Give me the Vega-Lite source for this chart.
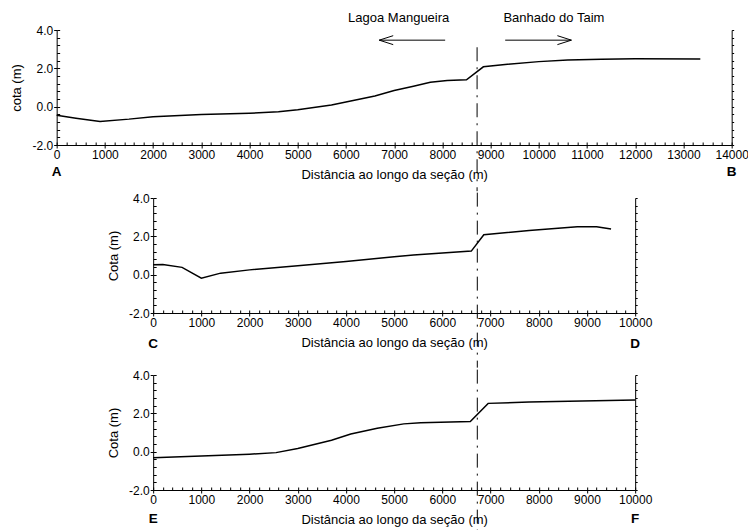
{
  "$schema": "https://vega.github.io/schema/vega-lite/v6.json",
  "background": "white",
  "padding": {"left": 10.5, "top": 11, "right": 0, "bottom": 0},
  "config": {
    "view": {"stroke": null},
    "font": "Liberation Sans",
    "axis": {"grid": false, "labelFont": "Liberation Sans", "labelFontSize": 12, "labelColor": "black", "titleFont": "Liberation Sans", "titleFontSize": 13, "titleFontWeight": "normal", "titleColor": "black", "domainColor": "black", "tickColor": "black", "labelFlush": false, "labelOverlap": false, "domainWidth": 1, "tickWidth": 1}
  },
  "datasets": {
    "perfis": [
      {"perfil": "A-B", "dist": 0, "cota": -0.45},
      {"perfil": "A-B", "dist": 400, "cota": -0.6},
      {"perfil": "A-B", "dist": 900, "cota": -0.77},
      {"perfil": "A-B", "dist": 1500, "cota": -0.65},
      {"perfil": "A-B", "dist": 2000, "cota": -0.52},
      {"perfil": "A-B", "dist": 3000, "cota": -0.41},
      {"perfil": "A-B", "dist": 4000, "cota": -0.34},
      {"perfil": "A-B", "dist": 4600, "cota": -0.27},
      {"perfil": "A-B", "dist": 5000, "cota": -0.16},
      {"perfil": "A-B", "dist": 5700, "cota": 0.09},
      {"perfil": "A-B", "dist": 6100, "cota": 0.3},
      {"perfil": "A-B", "dist": 6600, "cota": 0.56},
      {"perfil": "A-B", "dist": 7000, "cota": 0.84},
      {"perfil": "A-B", "dist": 7400, "cota": 1.06},
      {"perfil": "A-B", "dist": 7750, "cota": 1.27},
      {"perfil": "A-B", "dist": 8100, "cota": 1.36},
      {"perfil": "A-B", "dist": 8500, "cota": 1.4},
      {"perfil": "A-B", "dist": 8850, "cota": 2.08},
      {"perfil": "A-B", "dist": 9250, "cota": 2.19},
      {"perfil": "A-B", "dist": 10000, "cota": 2.35},
      {"perfil": "A-B", "dist": 10600, "cota": 2.43},
      {"perfil": "A-B", "dist": 11300, "cota": 2.48},
      {"perfil": "A-B", "dist": 12000, "cota": 2.5},
      {"perfil": "A-B", "dist": 13350, "cota": 2.49},
      {"perfil": "C-D", "dist": 0, "cota": 0.52},
      {"perfil": "C-D", "dist": 200, "cota": 0.53},
      {"perfil": "C-D", "dist": 600, "cota": 0.38},
      {"perfil": "C-D", "dist": 1000, "cota": -0.18},
      {"perfil": "C-D", "dist": 1400, "cota": 0.08},
      {"perfil": "C-D", "dist": 2000, "cota": 0.25},
      {"perfil": "C-D", "dist": 3000, "cota": 0.47},
      {"perfil": "C-D", "dist": 4000, "cota": 0.69},
      {"perfil": "C-D", "dist": 5000, "cota": 0.93},
      {"perfil": "C-D", "dist": 5400, "cota": 1.03},
      {"perfil": "C-D", "dist": 6600, "cota": 1.23},
      {"perfil": "C-D", "dist": 6860, "cota": 2.08},
      {"perfil": "C-D", "dist": 7800, "cota": 2.3},
      {"perfil": "C-D", "dist": 8800, "cota": 2.5},
      {"perfil": "C-D", "dist": 9200, "cota": 2.5},
      {"perfil": "C-D", "dist": 9500, "cota": 2.38},
      {"perfil": "E-F", "dist": 0, "cota": -0.32},
      {"perfil": "E-F", "dist": 1000, "cota": -0.22},
      {"perfil": "E-F", "dist": 2000, "cota": -0.13},
      {"perfil": "E-F", "dist": 2550, "cota": -0.05},
      {"perfil": "E-F", "dist": 3000, "cota": 0.17},
      {"perfil": "E-F", "dist": 3700, "cota": 0.6},
      {"perfil": "E-F", "dist": 4100, "cota": 0.92},
      {"perfil": "E-F", "dist": 4650, "cota": 1.22},
      {"perfil": "E-F", "dist": 5200, "cota": 1.45},
      {"perfil": "E-F", "dist": 5550, "cota": 1.51},
      {"perfil": "E-F", "dist": 6580, "cota": 1.57},
      {"perfil": "E-F", "dist": 6950, "cota": 2.52},
      {"perfil": "E-F", "dist": 7800, "cota": 2.59},
      {"perfil": "E-F", "dist": 10000, "cota": 2.7}
    ],
    "divisa": [
      {"perfil": "A-B", "dist": 8720},
      {"perfil": "C-D", "dist": 6725},
      {"perfil": "E-F", "dist": 6725}
    ],
    "letras": [
      {"perfil": "A-B", "letra": "A", "dist": 0},
      {"perfil": "A-B", "letra": "B", "dist": 14000},
      {"perfil": "C-D", "letra": "C", "dist": 0},
      {"perfil": "C-D", "letra": "D", "dist": 10000},
      {"perfil": "E-F", "letra": "E", "dist": 0},
      {"perfil": "E-F", "letra": "F", "dist": 10000}
    ],
    "setas": [
      {"rotulo": "Lagoa Mangueira", "sentido": "oeste", "centro": 7094, "inicio": 8058, "ponta": 6690},
      {"rotulo": "Banhado do Taim", "sentido": "leste", "centro": 10313, "inicio": 9303, "ponta": 10676}
    ]
  },
  "spacing": 0,
  "center": true,
  "vconcat": [
    {
      "width": 675, "height": 115,
      "resolve": {"axis": {"x": "independent", "y": "independent"}},
      "layer": [
        {
          "data": {"name": "perfis"},
          "transform": [{"filter": "datum.perfil === 'A-B'"}],
          "mark": {"type": "line", "color": "black", "strokeWidth": 1.5},
          "encoding": {
            "x": {"field": "dist", "type": "quantitative", "scale": {"domain": [0, 14000], "nice": false, "zero": false},
              "axis": {"orient": "bottom", "values": [0,1000,2000,3000,4000,5000,6000,7000,8000,9000,10000,11000,12000,13000,14000], "format": "d", "tickSize": 3, "labelPadding": 1, "title": "Distância ao longo da seção (m)", "titlePadding": 8}},
            "y": {"field": "cota", "type": "quantitative", "scale": {"domain": [-2, 4], "nice": false, "zero": false},
              "axis": {"orient": "left", "values": [-2, 0, 2, 4], "labelExpr": "replace(format(datum.value, '.1f'), '\u2212', '-')", "tickSize": 3, "labelPadding": 1, "title": "cota (m)", "titlePadding": 8}}
          }
        },
        {
          "data": {"name": "divisa"},
          "transform": [{"filter": "datum.perfil === 'A-B'"}],
          "mark": {"type": "rule", "color": "black", "strokeWidth": 1, "strokeDash": [14, 6, 2, 6]},
          "encoding": {
            "x": {"field": "dist", "type": "quantitative",
              "axis": {"orient": "bottom", "values": [0,200,400,600,800,1000,1200,1400,1600,1800,2000,2200,2400,2600,2800,3000,3200,3400,3600,3800,4000,4200,4400,4600,4800,5000,5200,5400,5600,5800,6000,6200,6400,6600,6800,7000,7200,7400,7600,7800,8000,8200,8400,8600,8800,9000,9200,9400,9600,9800,10000,10200,10400,10600,10800,11000,11200,11400,11600,11800,12000,12200,12400,12600,12800,13000,13200,13400,13600,13800,14000], "labels": false, "domain": false, "title": null, "tickSize": -3}},
            "y": {"datum": 3.1, "type": "quantitative",
              "axis": {"orient": "left", "values": [-2,-1.6,-1.2,-0.8,-0.4,0,0.4,0.8,1.2,1.6,2,2.4,2.8,3.2,3.6,4], "labels": false, "domain": false, "title": null, "tickSize": -3}},
            "y2": {"datum": -4.41}
          }
        },
        {
          "data": {"name": "letras"},
          "transform": [{"filter": "datum.perfil === 'A-B'"}],
          "mark": {"type": "text", "fontWeight": "bold", "fontSize": 13.5, "color": "black", "font": "Liberation Sans"},
          "encoding": {
            "x": {"field": "dist", "type": "quantitative", "axis": null},
            "y": {"datum": -3.42, "type": "quantitative",
              "axis": {"orient": "right", "values": [-2,-1.6,-1.2,-0.8,-0.4,0,0.4,0.8,1.2,1.6,2,2.4,2.8,3.2,3.6,4], "labels": false, "domain": true, "title": null, "tickSize": 2}},
            "text": {"field": "letra"}
          }
        },
        {
          "data": {"name": "setas"},
          "mark": {"type": "text", "fontSize": 13, "color": "black", "font": "Liberation Sans"},
          "encoding": {
            "x": {"field": "centro", "type": "quantitative", "axis": null},
            "y": {"datum": 4.63, "type": "quantitative", "axis": null},
            "text": {"field": "rotulo"}
          }
        },
        {
          "data": {"name": "setas"},
          "mark": {"type": "rule", "color": "black", "strokeWidth": 1},
          "encoding": {
            "x": {"field": "inicio", "type": "quantitative", "axis": null},
            "x2": {"field": "ponta"},
            "y": {"datum": 3.47, "type": "quantitative", "axis": null}
          }
        },
        {
          "data": {"name": "setas"},
          "transform": [{"filter": "datum.sentido === 'oeste'"}],
          "mark": {"type": "point", "shape": "M0,0L2,-0.64M0,0L2,0.64", "size": 196, "filled": false, "stroke": "black", "strokeWidth": 1, "opacity": 1},
          "encoding": {
            "x": {"field": "ponta", "type": "quantitative", "axis": null},
            "y": {"datum": 3.47, "type": "quantitative", "axis": null}
          }
        },
        {
          "data": {"name": "setas"},
          "transform": [{"filter": "datum.sentido === 'leste'"}],
          "mark": {"type": "point", "shape": "M0,0L-2,-0.64M0,0L-2,0.64", "size": 196, "filled": false, "stroke": "black", "strokeWidth": 1, "opacity": 1},
          "encoding": {
            "x": {"field": "ponta", "type": "quantitative", "axis": null},
            "y": {"datum": 3.47, "type": "quantitative", "axis": null}
          }
        }
      ]
    },
    {
      "width": 482, "height": 115,
      "resolve": {"axis": {"x": "independent", "y": "independent"}},
      "layer": [
        {
          "data": {"name": "perfis"},
          "transform": [{"filter": "datum.perfil === 'C-D'"}],
          "mark": {"type": "line", "color": "black", "strokeWidth": 1.5},
          "encoding": {
            "x": {"field": "dist", "type": "quantitative", "scale": {"domain": [0, 10000], "nice": false, "zero": false},
              "axis": {"orient": "bottom", "values": [0,1000,2000,3000,4000,5000,6000,7000,8000,9000,10000], "format": "d", "tickSize": 3, "labelPadding": 1, "title": "Distância ao longo da seção (m)", "titlePadding": 8}},
            "y": {"field": "cota", "type": "quantitative", "scale": {"domain": [-2, 4], "nice": false, "zero": false},
              "axis": {"orient": "left", "values": [-2, 0, 2, 4], "labelExpr": "replace(format(datum.value, '.1f'), '\u2212', '-')", "tickSize": 3, "labelPadding": 1, "title": "Cota (m)", "titlePadding": 8}}
          }
        },
        {
          "data": {"name": "divisa"},
          "transform": [{"filter": "datum.perfil === 'C-D'"}],
          "mark": {"type": "rule", "color": "black", "strokeWidth": 1, "strokeDash": [14, 6, 2, 6]},
          "encoding": {
            "x": {"field": "dist", "type": "quantitative",
              "axis": {"orient": "bottom", "values": [0,200,400,600,800,1000,1200,1400,1600,1800,2000,2200,2400,2600,2800,3000,3200,3400,3600,3800,4000,4200,4400,4600,4800,5000,5200,5400,5600,5800,6000,6200,6400,6600,6800,7000,7200,7400,7600,7800,8000,8200,8400,8600,8800,9000,9200,9400,9600,9800,10000], "labels": false, "domain": false, "title": null, "tickSize": -3}},
            "y": {"datum": 4.28, "type": "quantitative",
              "axis": {"orient": "left", "values": [-2,-1.6,-1.2,-0.8,-0.4,0,0.4,0.8,1.2,1.6,2,2.4,2.8,3.2,3.6,4], "labels": false, "domain": false, "title": null, "tickSize": -3}},
            "y2": {"datum": -4.85}
          }
        },
        {
          "data": {"name": "letras"},
          "transform": [{"filter": "datum.perfil === 'C-D'"}],
          "mark": {"type": "text", "fontWeight": "bold", "fontSize": 13.5, "color": "black", "font": "Liberation Sans"},
          "encoding": {
            "x": {"field": "dist", "type": "quantitative", "axis": null},
            "y": {"datum": -3.6, "type": "quantitative",
              "axis": {"orient": "right", "values": [-2,-1.6,-1.2,-0.8,-0.4,0,0.4,0.8,1.2,1.6,2,2.4,2.8,3.2,3.6,4], "labels": false, "domain": true, "title": null, "tickSize": 2}},
            "text": {"field": "letra"}
          }
        }
      ]
    },
    {
      "width": 482, "height": 115,
      "resolve": {"axis": {"x": "independent", "y": "independent"}},
      "layer": [
        {
          "data": {"name": "perfis"},
          "transform": [{"filter": "datum.perfil === 'E-F'"}],
          "mark": {"type": "line", "color": "black", "strokeWidth": 1.5},
          "encoding": {
            "x": {"field": "dist", "type": "quantitative", "scale": {"domain": [0, 10000], "nice": false, "zero": false},
              "axis": {"orient": "bottom", "values": [0,1000,2000,3000,4000,5000,6000,7000,8000,9000,10000], "format": "d", "tickSize": 3, "labelPadding": 1, "title": "Distância ao longo da seção (m)", "titlePadding": 8}},
            "y": {"field": "cota", "type": "quantitative", "scale": {"domain": [-2, 4], "nice": false, "zero": false},
              "axis": {"orient": "left", "values": [-2, 0, 2, 4], "labelExpr": "replace(format(datum.value, '.1f'), '\u2212', '-')", "tickSize": 3, "labelPadding": 1, "title": "Cota (m)", "titlePadding": 8}}
          }
        },
        {
          "data": {"name": "divisa"},
          "transform": [{"filter": "datum.perfil === 'E-F'"}],
          "mark": {"type": "rule", "color": "black", "strokeWidth": 1, "strokeDash": [14, 6, 2, 6]},
          "encoding": {
            "x": {"field": "dist", "type": "quantitative",
              "axis": {"orient": "bottom", "values": [0,200,400,600,800,1000,1200,1400,1600,1800,2000,2200,2400,2600,2800,3000,3200,3400,3600,3800,4000,4200,4400,4600,4800,5000,5200,5400,5600,5800,6000,6200,6400,6600,6800,7000,7200,7400,7600,7800,8000,8200,8400,8600,8800,9000,9200,9400,9600,9800,10000], "labels": false, "domain": false, "title": null, "tickSize": -3}},
            "y": {"datum": 4.28, "type": "quantitative",
              "axis": {"orient": "left", "values": [-2,-1.6,-1.2,-0.8,-0.4,0,0.4,0.8,1.2,1.6,2,2.4,2.8,3.2,3.6,4], "labels": false, "domain": false, "title": null, "tickSize": -3}},
            "y2": {"datum": -4.1}
          }
        },
        {
          "data": {"name": "letras"},
          "transform": [{"filter": "datum.perfil === 'E-F'"}],
          "mark": {"type": "text", "fontWeight": "bold", "fontSize": 13.5, "color": "black", "font": "Liberation Sans"},
          "encoding": {
            "x": {"field": "dist", "type": "quantitative", "axis": null},
            "y": {"datum": -3.5, "type": "quantitative",
              "axis": {"orient": "right", "values": [-2,-1.6,-1.2,-0.8,-0.4,0,0.4,0.8,1.2,1.6,2,2.4,2.8,3.2,3.6,4], "labels": false, "domain": true, "title": null, "tickSize": 2}},
            "text": {"field": "letra"}
          }
        }
      ]
    }
  ]
}
